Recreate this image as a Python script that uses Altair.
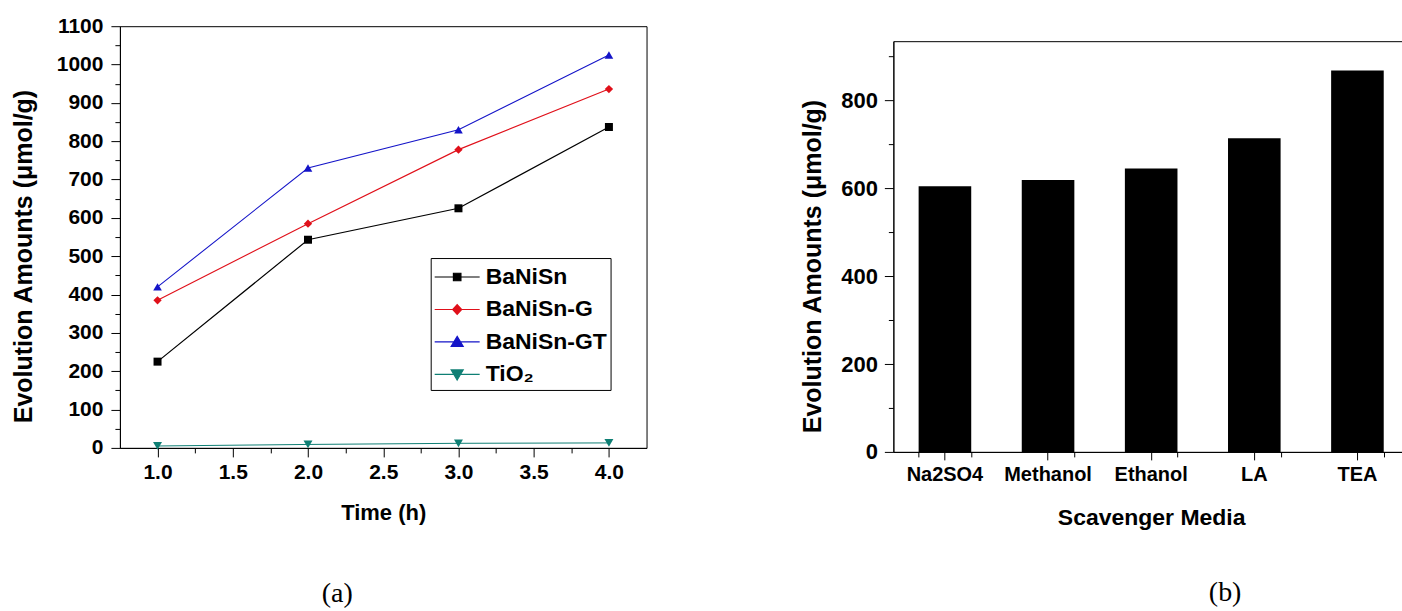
import altair as alt
import pandas as pd

# ---------------- data ----------------
time_h = [1.0, 2.0, 3.0, 4.0]
series_names = ["BaNiSn", "BaNiSn-G", "BaNiSn-GT", "TiO₂"]
banisn = [225, 543, 625, 837]
banisn_g = [385, 585, 778, 936]
banisn_gt = [420, 730, 830, 1025]
tio2 = [5, 9, 12, 13]
series_colors = ["#000000", "#e0101a", "#1414c8", "#0f7f74"]

x_major = [1.0, 1.5, 2.0, 2.5, 3.0, 3.5, 4.0]
x_minor = [1.25, 1.75, 2.25, 2.75, 3.25, 3.75]
y_major = list(range(0, 1101, 100))
y_minor = list(range(50, 1100, 100))

media = ["Na2SO4", "Methanol", "Ethanol", "LA", "TEA"]
amounts = [605, 619, 645, 714, 868]
yb_major = [0, 200, 400, 600, 800]
yb_minor = [100, 300, 500, 700, 900]

FONT = "Liberation Sans"
SERIF = "Liberation Serif"

rows = []
for name, vals in zip(series_names, [banisn, banisn_g, banisn_gt, tio2]):
    for t, v in zip(time_h, vals):
        rows.append({"series": name, "time": t, "amount": v})
df_lines = pd.DataFrame(rows)
df_bars = pd.DataFrame({"medium": media, "amount": amounts})

# ---------------- left chart ----------------
xs_left = alt.Scale(domain=[0.75, 4.25], nice=False, zero=False)
ys_left = alt.Scale(domain=[0, 1100], nice=False, zero=False)

base = alt.Chart(df_lines)

lines = base.mark_line().encode(
    x=alt.X("time:Q", scale=xs_left,
            axis=alt.Axis(values=x_major, format=".1f", title="Time (h)",
                          tickSize=9, labelFontSize=21, labelPadding=5,
                          titleFontSize=22, titleY=65, titleBaseline="middle",
                          labelOverlap=False)),
    y=alt.Y("amount:Q", scale=ys_left,
            axis=alt.Axis(values=y_major, format="d", title="Evolution Amounts (μmol/g)",
                          tickSize=9, labelFontSize=21, labelPadding=8,
                          titleFontSize=25, titleX=-96, titleY=230,
                          titleBaseline="middle", labelOverlap=False)),
    color=alt.Color("series:N", scale=alt.Scale(domain=series_names, range=series_colors), legend=None),
    strokeWidth=alt.StrokeWidth("series:N", scale=alt.Scale(domain=series_names, range=[1.2, 1, 1, 2]), legend=None),
)

points = base.mark_point(filled=True, opacity=1).encode(
    x=alt.X("time:Q", scale=xs_left,
            axis=alt.Axis(values=x_minor, labels=False, tickSize=5, domain=False,
                          title=None, orient="bottom")),
    y=alt.Y("amount:Q", scale=ys_left,
            axis=alt.Axis(values=y_minor, labels=False, tickSize=5, domain=False,
                          title=None, orient="left")),
    color=alt.Color("series:N", scale=alt.Scale(domain=series_names, range=series_colors), legend=None),
    shape=alt.Shape("series:N", scale=alt.Scale(domain=series_names,
                    range=["square", "diamond", "triangle-up", "triangle-down"]), legend=None),
    size=alt.Size("series:N", scale=alt.Scale(domain=series_names, range=[64, 80, 130, 130]), legend=None),
)

# legend symbols: a 45px line with the series marker at its middle (unit = 15px)
legend_paths = [
    "M-1,0H2M0.25,-0.25H0.75V0.25H0.25Z",
    "M-1,0H2M0.5,-0.33L0.8,0L0.5,0.33L0.2,0Z",
    "M-1,0H2M0.5,-0.37L0.9,0.3L0.1,0.3Z",
    "M-1,0H2M0.5,0.37L0.9,-0.3L0.1,-0.3Z",
]

def leg():
    return alt.Legend(title=None, orient="none", legendX=311, legendY=232,
                      direction="vertical", labelFont=FONT, labelFontSize=23,
                      labelFontWeight="bold", labelColor="black", labelOffset=20,
                      symbolSize=900, symbolStrokeWidth=1.2, strokeColor="black",
                      padding=3, rowPadding=4.5, symbolOpacity=1)

legend_layer = base.transform_filter("false").mark_point(filled=True).encode(
    x=alt.X("time:Q", scale=xs_left, axis=None),
    y=alt.Y("amount:Q", scale=ys_left, axis=None),
    shape=alt.Shape("series:N", scale=alt.Scale(domain=series_names, range=legend_paths), legend=leg()),
    fill=alt.Fill("series:N", scale=alt.Scale(domain=series_names, range=series_colors), legend=leg()),
    stroke=alt.Stroke("series:N", scale=alt.Scale(domain=series_names, range=series_colors), legend=leg()),
)

left = alt.layer(lines, points, legend_layer).resolve_scale(
    x="independent", y="independent", shape="independent",
    fill="independent", stroke="independent"
).properties(
    width=527, height=422,
    title=alt.TitleParams("(a)", orient="bottom", font=SERIF, fontSize=28,
                          fontWeight="normal", color="black", anchor="middle",
                          frame="group", dx=-46, offset=56),
)

# ---------------- right chart ----------------
band = alt.Scale(paddingInner=0.49, paddingOuter=0.245)
ys_right = alt.Scale(domain=[0, 935], nice=False, zero=True)

bars = alt.Chart(df_bars).mark_bar(color="black").encode(
    x=alt.X("medium:N", sort=media, scale=band,
            axis=alt.Axis(title="Scavenger Media", labelAngle=0, tickSize=8,
                          labelFontSize=20, labelPadding=5, titleFontSize=23,
                          titleY=66, titleBaseline="middle", labelOverlap=False)),
    y=alt.Y("amount:Q", scale=ys_right,
            axis=alt.Axis(values=yb_major, format="d", title="Evolution Amounts (μmol/g)",
                          tickSize=9, labelFontSize=22, labelPadding=7,
                          titleFontSize=25, titleX=-81, titleY=225,
                          titleBaseline="middle", labelOverlap=False)),
)

bars_minor = alt.Chart(df_bars).mark_bar(opacity=0).encode(
    x=alt.X("medium:N", sort=media, scale=band,
            axis=alt.Axis(title=None, labels=False, tickSize=5, domain=False,
                          tickBand="extent", orient="bottom")),
    y=alt.Y("amount:Q", scale=ys_right,
            axis=alt.Axis(values=yb_minor, labels=False, tickSize=5, domain=False,
                          title=None, orient="left")),
)

right = alt.layer(bars, bars_minor).resolve_scale(
    x="independent", y="independent"
).properties(
    width=516, height=411,
    title=alt.TitleParams("(b)", orient="bottom", font=SERIF, fontSize=28,
                          fontWeight="normal", color="black", anchor="middle",
                          frame="group", dx=74, offset=49),
)

spacer = alt.Chart(pd.DataFrame({"v": [0]})).mark_text(text="").encode(
    x=alt.value(0), y=alt.value(0)
).properties(width=516, height=13, view={"stroke": "transparent"})

chart = alt.hconcat(
    left,
    alt.vconcat(spacer, right, spacing=0),
    spacing=152,
).properties(
    padding={"left": 11, "top": 14, "right": -8, "bottom": 0},
).configure_view(
    stroke="black", strokeWidth=1
).configure_axis(
    grid=False, domainColor="black", tickColor="black", labelColor="black",
    titleColor="black", labelFont=FONT, titleFont=FONT, labelFontWeight="bold",
    titleFontWeight="bold", domainWidth=1, tickWidth=1,
)

chart.save("out.html", embed_options={"renderer": "svg", "actions": False})
